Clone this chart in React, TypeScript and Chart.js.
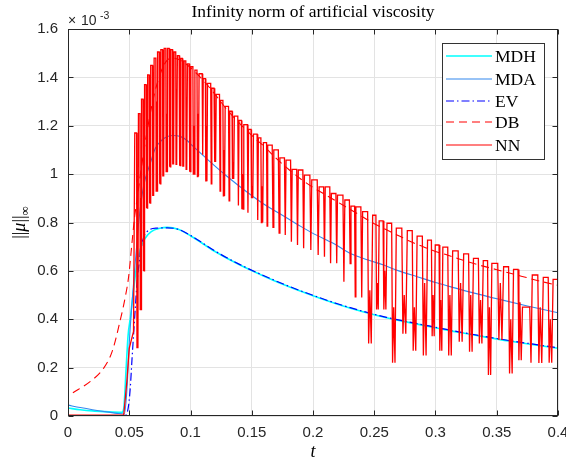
import React, { useEffect, useRef } from 'react';
import { Chart, registerables } from 'chart.js';
Chart.register(...registerables);

// ---- data (values in units of 1e-3) ----
const mdhT = [0, 0.01, 0.02, 0.03, 0.044, 0.0455, 0.0475, 0.049, 0.051, 0.053, 0.056, 0.059, 0.063, 0.068, 0.075, 0.081, 0.09, 0.1, 0.12, 0.14, 0.16, 0.18, 0.2, 0.22, 0.24, 0.26, 0.28, 0.3, 0.32, 0.34, 0.36, 0.38, 0.4];
const mdhV = [0.033, 0.026, 0.021, 0.018, 0.015, 0.03, 0.2, 0.33, 0.41, 0.5, 0.62, 0.69, 0.735, 0.762, 0.776, 0.78, 0.772, 0.745, 0.68, 0.625, 0.578, 0.535, 0.497, 0.462, 0.432, 0.406, 0.385, 0.365, 0.345, 0.327, 0.31, 0.295, 0.28];

const mdaT = [0, 0.01, 0.02, 0.03, 0.04, 0.046, 0.048, 0.05, 0.052, 0.054, 0.056, 0.0577, 0.0617, 0.0672, 0.0713, 0.0765, 0.0808, 0.086, 0.092, 0.097, 0.1, 0.113, 0.13, 0.145, 0.161, 0.175, 0.188, 0.2, 0.2165, 0.2305, 0.245, 0.2577, 0.27, 0.285, 0.3, 0.312, 0.33, 0.354, 0.375, 0.4];
const mdaV = [0.045, 0.035, 0.026, 0.018, 0.011, 0.008, 0.1, 0.3, 0.45, 0.58, 0.7, 0.8, 0.95, 1.045, 1.107, 1.14, 1.155, 1.16, 1.155, 1.14, 1.125, 1.065, 0.99, 0.93, 0.872, 0.83, 0.79, 0.755, 0.714, 0.672, 0.645, 0.624, 0.6, 0.576, 0.552, 0.535, 0.51, 0.48, 0.455, 0.427];

const evT = [0, 0.045, 0.0475, 0.0495, 0.0509, 0.0522, 0.0536, 0.055, 0.0563, 0.0577, 0.0604, 0.0645, 0.0727, 0.0808, 0.09, 0.1, 0.12, 0.14, 0.16, 0.18, 0.2, 0.22, 0.24, 0.26, 0.28, 0.3, 0.32, 0.34, 0.36, 0.38, 0.4];
const evV = [0, 0, 0.005, 0.045, 0.121, 0.231, 0.342, 0.452, 0.548, 0.617, 0.714, 0.762, 0.777, 0.778, 0.772, 0.747, 0.682, 0.627, 0.58, 0.537, 0.499, 0.464, 0.434, 0.408, 0.387, 0.367, 0.347, 0.329, 0.312, 0.297, 0.282];

const dbT = [0.004, 0.018, 0.029, 0.036, 0.0427, 0.0468, 0.0495, 0.0522, 0.0544, 0.0563, 0.06, 0.065, 0.07, 0.075, 0.08, 0.085, 0.09, 0.095, 0.1, 0.11, 0.12, 0.13, 0.14, 0.15, 0.16, 0.17, 0.18, 0.19, 0.2, 0.21, 0.22, 0.23, 0.24, 0.25, 0.26, 0.27, 0.28, 0.29, 0.3, 0.31, 0.32, 0.335, 0.35, 0.37, 0.385, 0.4];
const dbV = [0.096, 0.142, 0.197, 0.266, 0.397, 0.493, 0.576, 0.714, 0.824, 0.893, 1.03, 1.19, 1.32, 1.41, 1.465, 1.48, 1.475, 1.46, 1.44, 1.39, 1.33, 1.265, 1.21, 1.16, 1.115, 1.065, 1.02, 0.98, 0.945, 0.915, 0.885, 0.855, 0.825, 0.795, 0.77, 0.745, 0.72, 0.7, 0.68, 0.665, 0.648, 0.625, 0.605, 0.578, 0.558, 0.54];

// NN: quiet start, then oscillation cycles (time of each peak, peak value, trough value, rebound level or null)
const nnPreT = [0, 0.02, 0.0455, 0.048, 0.05, 0.052, 0.0535];
const nnPreV = [0.003, 0.003, 0.005, 0.14, 0.28, 0.32, 0.35];
const nnPeakT = [0.0545, 0.0575, 0.06, 0.0625, 0.065, 0.0675, 0.0703, 0.0731, 0.0758, 0.0785, 0.0812, 0.0839, 0.0866, 0.0893, 0.0921, 0.0948, 0.0975, 0.1003, 0.1036, 0.107, 0.1104, 0.1139, 0.1174, 0.121, 0.1246, 0.1283, 0.132, 0.1358, 0.1396, 0.1435, 0.1474, 0.1514, 0.1554, 0.1595, 0.163, 0.168, 0.173, 0.178, 0.183, 0.188, 0.193, 0.199, 0.205, 0.21, 0.215, 0.22, 0.226, 0.231, 0.235, 0.2405, 0.2487, 0.254, 0.2604, 0.268, 0.277, 0.285, 0.2935, 0.2998, 0.306, 0.314, 0.323, 0.331, 0.339, 0.346, 0.3556, 0.3637, 0.371, 0.379, 0.388, 0.396];
const nnPeak = [1.17, 1.25, 1.31, 1.37, 1.41, 1.45, 1.48, 1.505, 1.515, 1.52, 1.52, 1.515, 1.505, 1.49, 1.478, 1.468, 1.456, 1.444, 1.43, 1.415, 1.395, 1.375, 1.355, 1.33, 1.305, 1.28, 1.26, 1.24, 1.222, 1.205, 1.185, 1.165, 1.15, 1.13, 1.12, 1.1, 1.067, 1.058, 1.02, 1.017, 0.996, 0.976, 0.947, 0.947, 0.92, 0.913, 0.893, 0.868, 0.865, 0.845, 0.83, 0.807, 0.797, 0.777, 0.766, 0.744, 0.727, 0.707, 0.698, 0.683, 0.67, 0.652, 0.642, 0.631, 0.617, 0.606, 0.45, 0.583, 0.573, 0.565];
const nnTrough = [0.28, 0.44, 0.6, 0.86, 0.88, 0.91, 0.93, 0.96, 0.99, 1.01, 1.03, 1.04, 1.04, 1.035, 1.03, 1.02, 1.01, 1.0, 0.99, 1.08, 0.97, 0.96, 1.05, 0.93, 0.91, 0.89, 0.98, 0.87, 0.855, 0.84, 0.9, 0.81, 0.8, 0.785, 0.78, 0.756, 0.748, 0.72, 0.707, 0.694, 0.686, 0.666, 0.658, 0.632, 0.632, 0.555, 0.63, 0.493, 0.49, 0.3, 0.44, 0.44, 0.22, 0.34, 0.27, 0.25, 0.33, 0.27, 0.25, 0.307, 0.266, 0.3, 0.17, 0.314, 0.176, 0.231, 0.22, 0.219, 0.22, 0.27];
const nnRebound: (number | null)[] = [0.7, 0.9, 1.0, 1.15, 1.2, 1.25, 1.3, 1.2, 1.35, 1.25, 1.4, 1.3, 1.35, 1.25, 1.35, 1.25, 1.3, 1.2, 1.25, null, 1.2, null, 1.15, null, 1.1, null, 1.05, null, 1.0, null, 0.95, null, 0.95, null, null, null, null, null, null, null, null, null, null, null, null, null, null, null, null, 0.52, 0.55, 0.6, 0.45, 0.5, 0.45, 0.55, 0.5, 0.48, 0.5, 0.55, 0.5, 0.48, 0.45, 0.55, 0.4, 0.47, null, 0.45, 0.4, null];

const xTickVals = [0, 0.05, 0.1, 0.15, 0.2, 0.25, 0.3, 0.35, 0.4];
const yTickVals = [0, 0.2, 0.4, 0.6, 0.8, 1, 1.2, 1.4, 1.6];

const legendItems = [
  { label: 'MDH', color: '#00ffff', dash: [] as number[], width: 1.6 },
  { label: 'MDA', color: '#3388ee', dash: [] as number[], width: 1.2 },
  { label: 'EV', color: '#0000ff', dash: [8, 3, 1.5, 3], width: 1.2 },
  { label: 'DB', color: '#ff0000', dash: [8, 5], width: 1.2 },
  { label: 'NN', color: '#ff0000', dash: [] as number[], width: 1.2 },
];

function pts(t: number[], v: number[]) {
  return t.map((x, i) => ({ x, y: v[i] }));
}

function buildNN() {
  const out = pts(nnPreT, nnPreV);
  for (let i = 0; i < nnPeakT.length; i++) {
    const t = nnPeakT[i];
    const p = (i + 1 < nnPeakT.length ? nnPeakT[i + 1] : t + 0.008) - t;
    const r = nnRebound[i];
    if (r == null) {
      out.push({ x: t, y: nnPeak[i] });
      out.push({ x: t + 0.74 * p, y: nnPeak[i] });
      out.push({ x: t + 0.87 * p, y: nnTrough[i] });
    } else {
      out.push({ x: t, y: nnPeak[i] });
      out.push({ x: t + 0.5 * p, y: nnPeak[i] });
      out.push({ x: t + 0.6 * p, y: nnTrough[i] });
      out.push({ x: t + 0.72 * p, y: r });
      out.push({ x: t + 0.86 * p, y: nnTrough[i] });
    }
  }
  return out;
}

const fmt = (v: number) => String(Number(v.toFixed(3)));

const decorPlugin = {
  id: 'decor',
  afterDraw(chart: any) {
    const { ctx, chartArea: a, scales } = chart;
    const xs = scales.x, ys = scales.y;
    ctx.save();
    // box
    ctx.strokeStyle = '#262626';
    ctx.lineWidth = 1;
    ctx.setLineDash([]);
    const L = Math.round(a.left) + 0.5, R = Math.round(a.right) - 0.5;
    const T = Math.round(a.top) + 0.5, B = Math.round(a.bottom) - 0.5;
    ctx.strokeRect(L, T, R - L, B - T);
    ctx.beginPath();
    xTickVals.forEach((v) => {
      const px = Math.round(xs.getPixelForValue(v)) + 0.5;
      ctx.moveTo(px, B); ctx.lineTo(px, B - 5);
      ctx.moveTo(px, T); ctx.lineTo(px, T + 5);
    });
    yTickVals.forEach((v) => {
      const py = Math.round(ys.getPixelForValue(v)) + 0.5;
      ctx.moveTo(L, py); ctx.lineTo(L + 5, py);
      ctx.moveTo(R, py); ctx.lineTo(R - 5, py);
    });
    ctx.stroke();

    // exponent label
    ctx.fillStyle = '#262626';
    ctx.textBaseline = 'alphabetic';
    ctx.textAlign = 'left';
    ctx.font = '14px "Liberation Sans"';
    ctx.fillText('\u00d7', 68, 25);
    ctx.fillText('10', 81, 25);
    ctx.font = '10.5px "Liberation Sans"';
    ctx.fillText('-3', 100, 19);

    // title
    ctx.fillStyle = '#000';
    ctx.textAlign = 'center';
    ctx.font = '17.5px "Liberation Serif"';
    ctx.fillText('Infinity norm of artificial viscosity', (a.left + a.right) / 2, 17);

    // x label
    ctx.font = 'italic 18px "Liberation Serif"';
    ctx.fillText('t', (a.left + a.right) / 2, 457);

    // y label
    ctx.save();
    ctx.translate(25, (a.top + a.bottom) / 2);
    ctx.rotate(-Math.PI / 2);
    ctx.textAlign = 'left';
    const parts: [string, string, number][] = [
      ['||', '18px "Liberation Serif"', 0],
      ['\u03bc', 'italic 18px "Liberation Serif"', 0],
      ['||', '18px "Liberation Serif"', 0],
      ['\u221e', '13px "Liberation Serif"', 3.5],
    ];
    let w = 0;
    parts.forEach(([s, f]) => { ctx.font = f; w += ctx.measureText(s).width; });
    let cx = -w / 2;
    parts.forEach(([s, f, dy]) => {
      ctx.font = f;
      ctx.fillText(s, cx, dy);
      cx += ctx.measureText(s).width;
    });
    ctx.restore();

    // legend
    const bx = 442.5, by = 43.5, bw = 102, bh = 116;
    ctx.fillStyle = '#fff';
    ctx.fillRect(bx, by, bw, bh);
    ctx.strokeStyle = '#333';
    ctx.lineWidth = 1;
    ctx.strokeRect(bx, by, bw, bh);
    const rows = [56, 79, 101, 122, 145];
    legendItems.forEach((it, i) => {
      const y = rows[i];
      ctx.beginPath();
      ctx.strokeStyle = it.color;
      ctx.lineWidth = it.width;
      ctx.setLineDash(it.dash);
      ctx.moveTo(446, y);
      ctx.lineTo(492, y);
      ctx.stroke();
      ctx.setLineDash([]);
      ctx.fillStyle = '#000';
      ctx.font = '17.5px "Liberation Serif"';
      ctx.textAlign = 'left';
      ctx.fillText(it.label, 495, y + 6);
    });
    ctx.restore();
  },
};

export default function App() {
  const ref = useRef<HTMLCanvasElement>(null);
  useEffect(() => {
    const canvas = ref.current!;
    const chart = new Chart(canvas, {
      type: 'line',
      data: {
        datasets: [
          { label: 'NN', data: buildNN(), borderColor: '#ff0000', borderWidth: 1.3, pointRadius: 0, tension: 0 },
          { label: 'DB', data: pts(dbT, dbV), borderColor: '#ff0000', borderWidth: 1.1, borderDash: [8, 5], pointRadius: 0, cubicInterpolationMode: 'monotone' },
          { label: 'EV', data: pts(evT, evV), borderColor: '#0000ff', borderWidth: 1.2, borderDash: [8, 3, 1.5, 3], pointRadius: 0, cubicInterpolationMode: 'monotone' },
          { label: 'MDA', data: pts(mdaT, mdaV), borderColor: '#3388ee', borderWidth: 1.1, pointRadius: 0, cubicInterpolationMode: 'monotone' },
          { label: 'MDH', data: pts(mdhT, mdhV), borderColor: '#00ffff', borderWidth: 1.6, pointRadius: 0, cubicInterpolationMode: 'monotone' },
        ] as any,
      },
      options: {
        animation: false,
        responsive: false,
        devicePixelRatio: 1,
        parsing: false as any,
        normalized: true,
        layout: { padding: { left: 0, right: 8, top: 29, bottom: 0 } },
        plugins: { legend: { display: false }, tooltip: { enabled: false }, title: { display: false } },
        scales: {
          x: {
            type: 'linear',
            min: 0,
            max: 0.4,
            afterBuildTicks: (s: any) => { s.ticks = xTickVals.map((v) => ({ value: v })); },
            afterFit: (s: any) => { s.height = 48; s.paddingLeft = 0; s.paddingRight = 0; },
            ticks: { callback: (v: any) => fmt(Number(v)), color: '#262626', font: { family: '"Liberation Sans"', size: 15 }, padding: 8, maxRotation: 0, autoSkip: false },
            grid: { color: '#e3e3e3', lineWidth: 1, drawTicks: false },
            border: { display: false },
          },
          y: {
            type: 'linear',
            min: 0,
            max: 1.6,
            afterBuildTicks: (s: any) => { s.ticks = yTickVals.map((v) => ({ value: v })); },
            afterFit: (s: any) => { s.width = 68; s.paddingTop = 0; s.paddingBottom = 0; },
            ticks: { callback: (v: any) => fmt(Number(v)), color: '#262626', font: { family: '"Liberation Sans"', size: 15 }, padding: 10, autoSkip: false },
            grid: { color: '#e3e3e3', lineWidth: 1, drawTicks: false },
            border: { display: false },
          },
        },
      } as any,
      plugins: [decorPlugin],
    });
    return () => chart.destroy();
  }, []);
  return (
    <div style={{ position: 'absolute', left: 0, top: 0, width: 566, height: 464, background: '#fff' }}>
      <canvas ref={ref} width={566} height={464} style={{ display: 'block' }} />
    </div>
  );
}
